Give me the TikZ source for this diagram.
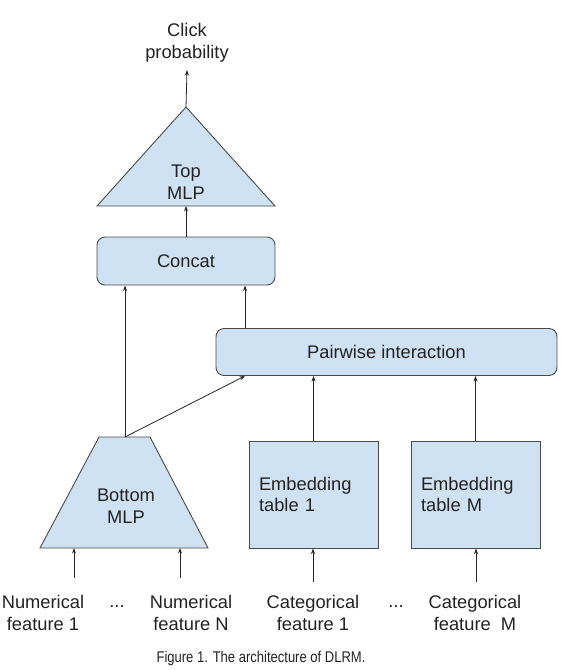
\documentclass[tikz,border=0pt]{standalone}
\usepackage{fontspec}
\setmainfont{Liberation Sans}
\newfontfamily\capfont[FakeStretch=0.84]{Liberation Sans}
\usetikzlibrary{arrows.meta}
\definecolor{boxfill}{HTML}{CFE2F3}
\definecolor{boxline}{HTML}{4A4A4A}
\definecolor{txt}{HTML}{222222}
\tikzset{
  x=1pt,y=-1pt,
  every node/.style={font=\fontsize{18.3}{21.8}\selectfont,text=txt,inner sep=0pt},
  shapebox/.style={draw=boxline,fill=boxfill,line width=0.9pt},
  rbox/.style={shapebox,rounded corners=8pt,minimum width=#1},
  embbox/.style={shapebox,minimum width=129pt,minimum height=107pt,text width=109pt,inner xsep=10pt,align=left},
  conn/.style={draw=black!85,line width=0.8pt,-{Stealth[length=5.5pt,width=4pt]}},
  lbl/.style={align=center},
}
\begin{document}
\begin{tikzpicture}
\useasboundingbox (0,0) rectangle (565,670);
% top MLP triangle
\coordinate (tapex) at (186,107);
\coordinate (tbase) at (186,206);
\draw[shapebox] (tapex) -- (275,206) -- (97,206) -- cycle;
\node[lbl] (toptext) at (186,182) {Top\\MLP};
\node[lbl,anchor=south] (click) at (187,62) {Click\\probability};
% concat
\node[rbox=178pt,minimum height=48pt] (concat) at (186,261) {Concat};
% pairwise
\node[rbox=341pt,minimum height=47pt] (pair) at (386.5,352) {Pairwise interaction};
% bottom MLP trapezoid
\coordinate (btop) at (125,437);
\draw[shapebox] (99,437) -- (150,437) -- (208,548) -- (40,548) -- cycle;
\node[lbl] (bottext) at (126,506) {Bottom\\MLP};
% embedding tables
\node[embbox] (emb1) at (313.5,494.5) {Embedding\\table 1};
\node[embbox] (embM) at (475.5,494.5) {Embedding\\table M};
% arrows upper
\draw[conn] (tapex) -- ([yshift=-8pt]click.south);
\draw[conn] (concat.north) -- (tbase);
\draw[conn] (btop) -- (concat.south -| btop);
\draw[conn] (pair.north -| 245,0) -- (concat.south -| 245,0);
\draw[conn] (btop) -- (pair.south -| 245,0);
\draw[conn] (emb1.north) -- (pair.south -| emb1.north);
\draw[conn] (embM.north) -- (pair.south -| embM.north);
% feature labels
\node[lbl] (nf1) at (43,613) {Numerical\\feature 1};
\node (dots1) at (117,607) {...};
\node[lbl] (nfN) at (191,613) {Numerical\\feature N};
\node[lbl] (cf1) at (313,613) {Categorical\\feature 1};
\node (dots2) at (396,607) {...};
\node[lbl] (cfM) at (475,613) {Categorical\\feature\ \ M};
% feature arrows
\coordinate (a1) at (74,578);
\coordinate (a2) at (180,578);
\coordinate (a3) at (313,582);
\coordinate (a4) at (476,582);
\draw[conn] (a1) -- (a1 |- 0,548);
\draw[conn] (a2) -- (a2 |- 0,548);
\draw[conn] (a3) -- (a3 |- emb1.south);
\draw[conn] (a4) -- (a4 |- embM.south);
% caption
\node[font=\capfont\fontsize{15.5}{18}\selectfont] (caption) at (261,658) {Figure 1. The architecture of DLRM.};
\end{tikzpicture}
\end{document}
